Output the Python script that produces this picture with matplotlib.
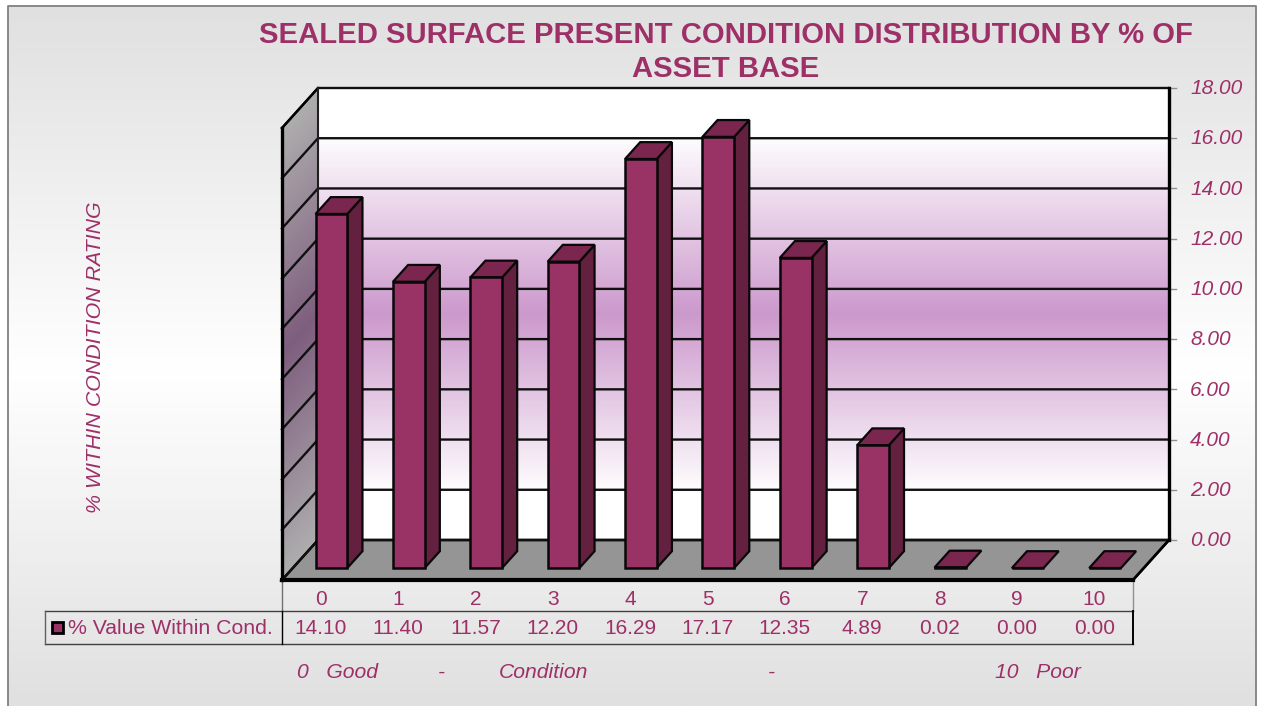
import numpy as np
import matplotlib
matplotlib.use("Agg")
import matplotlib.pyplot as plt
from matplotlib.patches import Polygon, Rectangle
from matplotlib.colors import LinearSegmentedColormap
from matplotlib.transforms import blended_transform_factory

plt.rcParams["font.family"] = ["Liberation Sans", "DejaVu Sans"]

categories = ["0", "1", "2", "3", "4", "5", "6", "7", "8", "9", "10"]
values = [14.10, 11.40, 11.57, 12.20, 16.29, 17.17, 12.35, 4.89, 0.02, 0.00, 0.00]
y_ticks = [0, 2, 4, 6, 8, 10, 12, 14, 16, 18]
title = "SEALED SURFACE PRESENT CONDITION DISTRIBUTION BY % OF\nASSET BASE"
y_title = "% WITHIN CONDITION RATING"
series_name = "% Value Within Cond."
x_notes = ["0   Good", "-", "Condition", "-", "10   Poor"]
x_notes_left = [297, 438, 499, 768, 995]

W, H = 1261, 706
TEXT = "#9E3068"
BAR = "#993366"
BAR_SIDE = "#64203F"
BAR_TOP = "#7A264F"
FLOOR = "#959595"

# depth of the fake 3d box, in data units
DX = 36 / 77.36
DY = 40 / 25.11
BAR_D0 = 0.30
BAR_D1 = 0.72
BAR_W = 0.41

fig = plt.figure(figsize=(W / 100, H / 100), dpi=100, facecolor="white")

# background layer in pixels
bg = fig.add_axes([0, 0, 1, 1])
bg.set_xlim(0, W)
bg.set_ylim(H, 0)
bg.axis("off")
cmap_bg = LinearSegmentedColormap.from_list("bg", [(0, "#E0E0E0"), (0.52, "#FFFFFF"), (1, "#E0E0E0")])
bg.imshow(np.linspace(0, 1, 256)[:, None], cmap=cmap_bg, extent=(8, 1256, 706, 6), aspect="auto", zorder=0)
bg.set_xlim(0, W)
bg.set_ylim(H, 0)
bg.plot([8, 8, 1256, 1256], [706, 6, 6, 706], color="#808080", lw=1.3, zorder=1)

# chart layer, front plane is 282..1133 x 128..580 px
ax = fig.add_axes([282 / W, 1 - 580 / H, (1133 - 282) / W, (580 - 128) / H], zorder=2)
ax.patch.set_alpha(0)
ax.axis("off")
x0, x1 = -0.5, len(categories) - 0.5
y0, y1 = 0, 18

# back wall
cmap_wall = LinearSegmentedColormap.from_list("wall", [(0, "#FFFFFF"), (0.10, "#FFFFFF"), (0.5, "#CC99CC"), (0.90, "#FFFFFF"), (1, "#FFFFFF")])
ax.imshow(np.linspace(0, 1, 256)[:, None], cmap=cmap_wall, aspect="auto", zorder=1,
          extent=(x0 + DX, x1 + DX, y0 + DY, y1 + DY), origin="upper", clip_on=False)

# left wall with sheared gradient
cmap_side = LinearSegmentedColormap.from_list("side", [(0, "#AEAEAE"), (0.5, "#7E5E7E"), (1, "#AEAEAE")])
gx, gy = np.meshgrid(np.linspace(0, 1, 80), np.linspace(y1 + DY, y0, 500))
shade = (gy - gx * DY - y0) / (y1 - y0)
im = ax.imshow(1 - shade, cmap=cmap_side, vmin=0, vmax=1, aspect="auto", zorder=1,
               extent=(x0, x0 + DX, y0, y1 + DY))
side_poly = Polygon([(x0, y0), (x0 + DX, y0 + DY), (x0 + DX, y1 + DY), (x0, y1)], closed=True,
                    transform=ax.transData, facecolor="none", edgecolor="none", clip_on=False)
ax.add_patch(side_poly)
im.set_clip_box(fig.bbox)
im.set_clip_path(side_poly)

# floor
ax.add_patch(Polygon([(x0, y0), (x1, y0), (x1 + DX, y0 + DY), (x0 + DX, y0 + DY)], closed=True,
                     facecolor=FLOOR, edgecolor="black", lw=1.8, zorder=2, clip_on=False))
ax.plot([x0, x1], [y0, y0], color="black", lw=3.0, zorder=3, clip_on=False)

# gridlines and walls
for t in y_ticks:
    ax.plot([x0, x0 + DX, x1 + DX], [t, t + DY, t + DY], color="#101010", lw=1.7, zorder=3, clip_on=False)
    ax.plot([x1 + DX, x1 + DX + 0.09], [t + DY, t + DY], color="#909090", lw=1.0, zorder=3, clip_on=False)
    ax.text(x1 + DX + 0.275, t + DY - 0.03, f"{t:.2f}", color=TEXT, fontsize=15, style="italic", ha="left", va="center")
ax.plot([x0, x0], [y0, y1], color="black", lw=2.4, zorder=3, clip_on=False)
ax.plot([x0, x0 + DX], [y1, y1 + DY], color="black", lw=1.7, zorder=3, clip_on=False)
ax.plot([x0 + DX, x0 + DX], [y0 + DY, y1 + DY], color="#202020", lw=1.5, zorder=3, clip_on=False)
ax.plot([x1 + DX, x1 + DX], [y0 + DY, y1 + DY], color="black", lw=2.4, zorder=3, clip_on=False)
ax.plot([x1, x1 + DX], [y0, y0 + DY], color="black", lw=1.8, zorder=3, clip_on=False)

# bars
xs = np.arange(len(values))
ax.bar(xs + BAR_D0 * DX, values, width=BAR_W, bottom=BAR_D0 * DY, color=BAR, edgecolor="#080808", lw=1.8, zorder=5, clip_on=False)
dep = BAR_D1 - BAR_D0
for x, v in zip(xs, values):
    left = x + BAR_D0 * DX - BAR_W / 2
    right = left + BAR_W
    base = BAR_D0 * DY
    if v > 0.5:
        ax.add_patch(Polygon([(right, base), (right + dep * DX, base + dep * DY),
                              (right + dep * DX, base + v + dep * DY), (right, base + v)], closed=True,
                             facecolor=BAR_SIDE, edgecolor="#080808", lw=1.6, zorder=4, clip_on=False))
    ax.add_patch(Polygon([(left, base + v), (right, base + v), (right + dep * DX, base + v + dep * DY),
                          (left + dep * DX, base + v + dep * DY)], closed=True,
                         facecolor=BAR_TOP, edgecolor="#080808", lw=1.6, zorder=4, clip_on=False))

ax.set_xlim(x0, x1)
ax.set_ylim(y0, y1)

# data table under the chart
trans = blended_transform_factory(ax.transData, bg.transData)
for c, v, x in zip(categories, values, xs):
    ax.text(x, 599.5, c, transform=trans, color=TEXT, fontsize=15, ha="center", va="center")
    ax.text(x, 628.5, f"{v:.2f}", transform=trans, color=TEXT, fontsize=15, ha="center", va="center")

bg.plot([45, 1133], [611, 611], color="#404040", lw=1.0, zorder=2)
bg.plot([45, 1133], [644, 644], color="#404040", lw=1.0, zorder=2)
bg.plot([45, 45], [611, 644], color="#606060", lw=1.0, zorder=2)
bg.plot([282, 282], [580, 611], color="#707070", lw=1.0, zorder=2)
bg.plot([282, 282], [611, 644], color="black", lw=1.0, zorder=2)
bg.plot([1133, 1133], [580, 611], color="#909090", lw=1.0, zorder=2)
bg.plot([1133, 1133], [611, 644], color="black", lw=1.4, zorder=2)
bg.add_patch(Rectangle((52, 622), 11, 11, facecolor=BAR, edgecolor="black", lw=2.0, zorder=3))
bg.text(68, 628.5, series_name, color=TEXT, fontsize=15.3, ha="left", va="center", zorder=3)

# titles
bg.text(726, 52, title, color=TEXT, fontsize=21.1, fontweight="bold", ha="center", va="center",
        linespacing=1.27, zorder=3)
bg.text(96, 357, y_title, color=TEXT, fontsize=15.4, style="italic", rotation=90, ha="center", va="center", zorder=3)
for s, x in zip(x_notes, x_notes_left):
    bg.text(x, 672.5, s, color=TEXT, fontsize=15.2, style="italic", ha="left", va="center", zorder=3)

fig.savefig("out.png", dpi=100)
